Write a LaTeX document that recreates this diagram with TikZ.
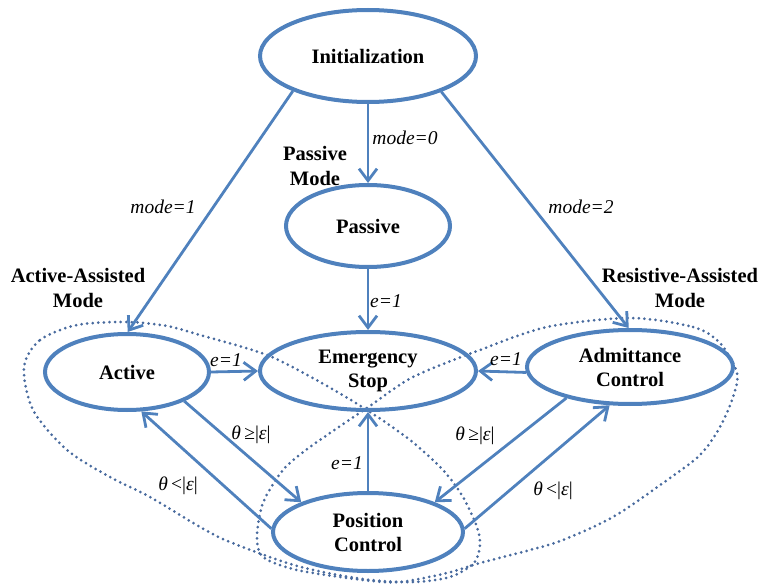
\documentclass[tikz,border=0pt]{standalone}
\usepackage{fontspec}
\setmainfont{Liberation Serif}
\usetikzlibrary{arrows.meta,shapes.geometric}
\definecolor{lineblue}{RGB}{79,129,189}
\definecolor{dotblue}{RGB}{72,106,158}
\begin{document}
\begin{tikzpicture}[x=1pt,y=-1pt,
  state/.style={ellipse, draw=lineblue, line width=4pt, inner sep=0pt, align=center,
    font=\fontsize{20.5}{24}\selectfont\bfseries},
  conn/.style={draw=lineblue, line width=2.8pt, -{Straight Barb[length=12pt,width=18pt]}},
  lbl/.style={font=\fontsize{19.5}{23}\selectfont\itshape, inner sep=0pt, anchor=base},
  modelbl/.style={font=\fontsize{20.5}{25}\selectfont\bfseries, align=center, inner sep=0pt},
  grp/.style={draw=dotblue, line width=3pt, line cap=round, dash pattern=on 0pt off 5.6pt}]
\useasboundingbox (0,0) rectangle (764,586);

% dotted group outlines
\draw[grp] plot[smooth cycle] coordinates {
  (24,367) (40,340) (77,325) (127,322) (167,326) (200,335) (267,355) (320,382)
  (367,410) (410,440) (443,470) (463,497) (477,527) (480,545) (474,563) (450,577)
  (413,582) (363,579) (297,566) (230,542) (200,527) (150,497) (110,477) (67,450) (33,410)};
\draw[grp] plot[smooth cycle] coordinates {
  (630,318) (693,327) (720,343) (737,373) (733,397) (720,427) (700,455) (663,483)
  (613,517) (563,540) (530,550) (480,563) (447,573) (400,582) (363,580) (297,570)
  (263,557) (257,537) (263,503) (283,470) (310,447) (367,408) (413,377) (480,350) (547,327)};

% states
\node[state, minimum width=216pt, minimum height=92pt] (init) at (368,56) {Initialization};
\node[state, minimum width=164pt, minimum height=82pt] (pas) at (368,226) {Passive};
\node[state, minimum width=216pt, minimum height=78pt] (es) at (368,371) {Emergency\\Stop};
\node[state, minimum width=164pt, minimum height=76pt] (act) at (127,372) {Active};
\node[state, minimum width=206pt, minimum height=74pt] (adm) at (630,367) {Admittance\\Control};
\node[state, minimum width=190pt, minimum height=78pt] (pos) at (368,532) {Position\\Control};

% mode labels
\node[modelbl] (pm) at (315,166) {Passive\\Mode};
\node[modelbl] (am) at (78,288) {Active-Assisted\\Mode};
\node[modelbl] (rm) at (680,288) {Resistive-Assisted\\Mode};

% connectors
\draw[conn] (init.south) -- (pas.north);
\draw[conn] (init.-155) -- (act.89);
\draw[conn] (init.-26) -- (adm.92);
\draw[conn] (pas.south) -- (es.north);
\draw[conn] (act.east) -- (es.west);
\draw[conn] (adm.183) -- (es.east);
\draw[conn] (pos.north) -- (es.south);
\draw[conn] (act.-27) -- (pos.156);
\draw[conn] (pos.178) -- (act.-70);
\draw[conn] (adm.-154) -- (pos.24);
\draw[conn] (pos.2) -- (adm.-118);

% transition labels
\node[lbl] (l0) at (405,145) {mode=0};
\node[lbl] (l1) at (163,213) {mode=1};
\node[lbl] (l2) at (581,213) {mode=2};
\node[lbl] (lp) at (386,307) {e=1};
\node[lbl] (la) at (226,366) {e=1};
\node[lbl] (ld) at (506,365) {e=1};
\node[lbl] (lq) at (347,469) {e=1};
\node[lbl] (t1) at (251,439) {θ\,\upshape≥|\itshape ε\upshape|};
\node[lbl] (t2) at (475,440) {θ\,\upshape≥|\itshape ε\upshape|};
\node[lbl] (t3) at (178,490) {θ\,\upshape<|\itshape ε\upshape|};
\node[lbl] (t4) at (553,495) {θ\,\upshape<|\itshape ε\upshape|};
\end{tikzpicture}
\end{document}
